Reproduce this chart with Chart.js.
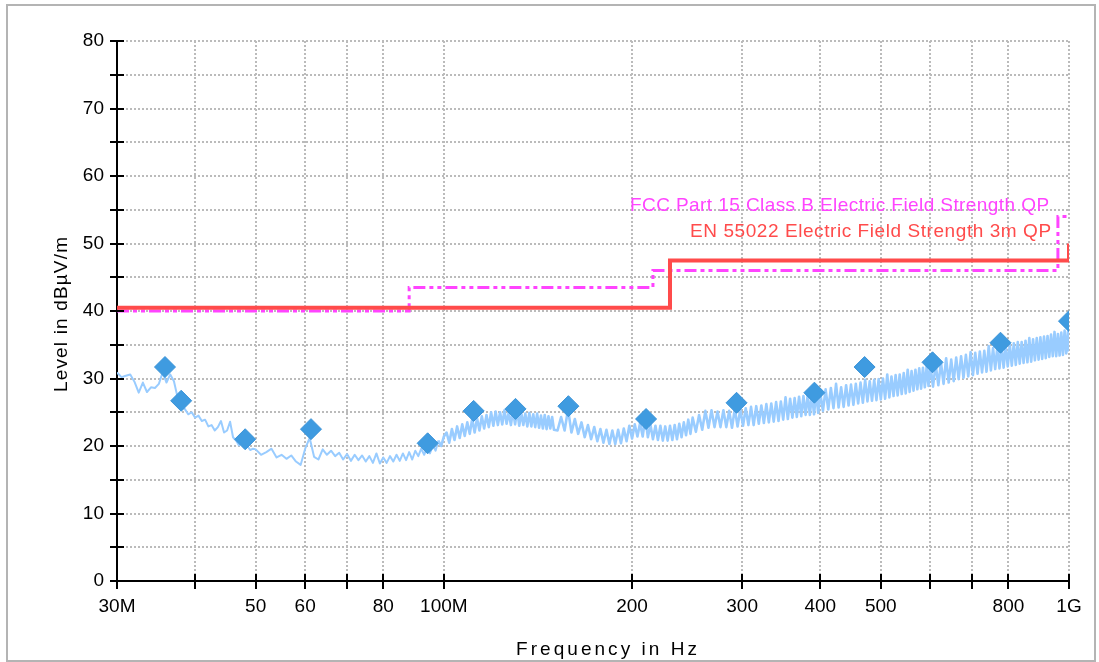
<!DOCTYPE html>
<html>
<head>
<meta charset="utf-8">
<script src="https://cdn.jsdelivr.net/npm/chart.js@4/dist/chart.umd.min.js"></script>
<style>
html,body{margin:0;padding:0;background:#fff;}
#c{display:block;}
</style>
</head>
<body>
<canvas id="c" width="1099" height="662"></canvas>
<script>
// ---------- data (frequency in MHz, level in dBµV/m) ----------
const xTickValues = [30, 40, 50, 60, 70, 80, 100, 200, 300, 400, 500, 600, 700, 800, 1000];
const xTickLabels = ['30M', '', '50', '60', '', '80', '100M', '200', '300', '400', '500', '', '', '800', '1G'];

const fccFreq  = [30, 88, 88, 216, 216, 960, 960, 1000];
const fccLevel = [40, 40, 43.5, 43.5, 46, 46, 54, 54];

const enFreq  = [30, 230, 230, 1000, 1000];
const enLevel = [40.5, 40.5, 47.5, 47.5, 50];

const peakFreq  = [35.8, 38.0, 48.1, 61.3, 94.2, 111.6, 130.2, 158.2, 210.6, 293.9, 391.5, 471, 604.9, 777, 1000];
const peakLevel = [31.7, 26.7, 21.0, 22.5, 20.4, 25.2, 25.5, 25.9, 24.0, 26.4, 27.9, 31.7, 32.4, 35.3, 38.5];

const fccLabel = 'FCC Part 15 Class B Electric Field Strength QP';
const enLabel  = 'EN 55022 Electric Field Strength 3m QP';
const xTitle = 'Frequency in Hz';
const yTitle = 'Level in dBµV/m';

// measured trace [MHz, dBµV/m]
const trace = [
[30,30.9],[30.5,30.2],[31,30.4],[31.5,30.6],[32,29.5],[32.5,27.9],[33,29.4],[33.5,28.0],[34,28.7],[34.5,28.6],
[35,29.2],[35.5,30.9],[36,29.4],[36.5,30.6],[37,29.6],[37.5,27.2],[38,25.8],[38.5,25.5],[39,24.7],[39.5,25.0],
[40,24.2],[40.5,24.5],[41,23.7],[41.5,23.9],[42,22.9],[42.5,23.1],[43,22.3],[43.5,22.8],[44,23.7],[44.5,22.0],
[45,22.3],[45.5,23.6],[46,21.3],[46.5,20.8],[47,20.1],[47.5,20.4],[48,19.8],[48.5,20.0],[49,19.4],[49.5,19.6],
[50,19.5],[51,18.7],[52,19.1],[53,19.6],[54,18.3],[55,18.7],[56,18.1],[57,18.6],[58,17.7],[59,17.2],
[60,19.6],[61,21.2],[62,18.4],[63,18.0],[64,19.5],[65,18.7],[66,19.3],[67,18.5],[68,19.0],[69,18.0],
[70,18.8],[71,17.8],[72,18.7],[73,17.9],[74,18.6],[75,17.7],[76,18.5],[77,17.5],[78,18.9],[79,17.4],
[80,18.3],[81,17.5],[82,18.5],[83,17.7],[84,18.7],[85,17.8],[86,18.9],[87,17.9],[88,19.1],[89,18.0],
[90,19.3],[91,18.5],[92,19.6],[93,18.7],[94,19.8],[95,18.9],[96,20.1],[97,19.3],[98,20.8],[99,20.0],
[100,21.4],[101,22.0],[102,20.5],[103,22.5],[104,20.9],[105,22.9],[106,21.2],[107,23.2],[108,21.5],[109,23.5],
[110,21.8],[111,24.0],[112,22.0],[113,24.1],[114,22.3],[115,24.4],[116,22.6],[117,24.6],[118,22.8],[119,25.0],
[120,23.0],[121,25.1],[122,23.1],[123,25.0],[124,23.2],[125,25.3],[126,23.3],[127,25.0],[128,23.1],[129,25.2],
[130,23.2],[131,25.3],[132,23.0],[133,24.9],[134,23.1],[135,24.8],[136,22.9],[137,24.9],[138,22.9],[139,24.7],
[140,22.8],[141,24.8],[142,22.7],[143,24.5],[144,22.6],[145,24.6],[146,22.5],[147,24.4],[148,22.6],[149,24.3],
[150,22.4],[152,22.3],[154,24.3],[156,22.3],[158,25.4],[160,22.0],[162,24.0],[164,21.8],[166,23.5],[168,21.3],
[170,23.1],[172,21.0],[174,22.8],[176,20.7],[178,22.5],[180,20.5],[182,22.4],[184,20.3],[186,22.3],[188,20.3],
[190,22.4],[192,20.4],[194,22.6],[196,20.7],[198,23.0],[200,21.1],[202,23.2],[204,21.4],[206,23.4],[208,21.4],
[210,24.3],[212,21.3],[214,23.2],[216,21.0],[218,23.0],[220,20.9],[222,23.0],[224,20.8],[226,22.9],[228,20.8],
[230,23.0],[232,20.9],[234,23.1],[236,21.0],[238,23.3],[240,21.3],[242,23.5],[244,21.6],[246,23.9],[248,21.8],
[250,24.2],[253,22.1],[256,24.6],[259,22.4],[262,25.2],[265,22.7],[268,25.3],[271,22.8],[274,25.1],[277,22.8],
[280,25.3],[283,22.8],[286,25.2],[289,22.7],[292,25.5],[295,22.9],[298,25.4],[301,23.0],[304,25.6],[307,23.1],
[310,25.8],[313,23.1],[316,25.9],[319,23.3],[322,26.0],[325,23.4],[328,26.2],[331,23.5],[334,26.3],[337,23.6],
[340,26.5],[343,23.7],[346,26.6],[349,23.9],[352,27.2],[355,24.0],[358,27.0],[361,24.2],[364,27.1],[367,24.3],
[370,27.3],[373,24.4],[376,27.4],[379,24.6],[382,27.6],[385,24.6],[388,27.7],[391,24.7],[394,27.9],[397,24.9],
[400,27.9],[404,25.2],[408,28.4],[412,25.4],[416,28.6],[420,25.6],[424,29.2],[428,25.7],[432,28.7],[436,25.8],
[440,29.0],[444,26.0],[448,29.1],[452,26.1],[456,29.2],[460,26.3],[464,29.4],[468,26.4],[472,29.8],[476,26.6],
[480,29.6],[484,26.7],[488,29.8],[492,26.8],[496,29.9],[500,26.9],[504,30.0],[508,27.0],[512,30.6],[516,27.2],
[520,30.3],[524,27.4],[528,30.5],[532,27.5],[536,30.6],[540,27.7],[544,30.8],[548,27.8],[552,31.3],[556,28.0],
[560,31.1],[564,28.2],[568,31.3],[572,28.4],[576,31.5],[580,28.5],[584,31.6],[588,28.7],[592,31.8],[596,28.9],
[600,32.0],[606,28.8],[612,32.1],[618,29.0],[624,32.4],[630,29.2],[636,33.0],[642,29.4],[648,32.8],[654,29.6],
[660,33.1],[666,29.9],[672,33.3],[678,30.1],[684,33.5],[690,30.3],[696,33.9],[702,30.5],[708,33.8],[714,30.7],
[720,34.0],[726,30.9],[732,34.1],[738,31.0],[744,34.8],[750,31.2],[756,34.5],[762,31.4],[768,34.7],[774,31.5],
[780,34.8],[786,31.6],[792,34.9],[798,31.8],[804,35.0],[810,31.9],[816,35.2],[822,32.0],[828,35.4],[834,32.2],
[840,35.4],[846,32.3],[852,35.6],[858,32.4],[864,36.0],[870,32.5],[876,35.8],[882,32.7],[888,36.0],[894,32.8],
[900,36.1],[906,32.9],[912,36.2],[918,33.0],[924,36.3],[930,33.2],[936,36.5],[942,33.3],[948,36.9],[954,33.3],
[960,36.6],[966,33.4],[972,36.8],[978,33.5],[984,37.1],[990,33.7],[996,36.9],[1000,34.0]
];

// ---------- helpers ----------
const FONT = '"Liberation Sans", Arial, sans-serif';

function drawSpaced(ctx, text, left, baseline, targetW) {
  ctx.textAlign = 'left';
  ctx.textBaseline = 'alphabetic';
  if ('letterSpacing' in ctx) ctx.letterSpacing = '0px';
  const n = [...text].length;
  const w0 = ctx.measureText(text).width;
  if ('letterSpacing' in ctx) {
    const sp = (targetW - w0) / (n - 1);
    ctx.letterSpacing = sp.toFixed(2) + 'px';
    ctx.fillText(text, left, baseline);
    ctx.letterSpacing = '0px';
  } else {
    ctx.save();
    ctx.translate(left, baseline);
    ctx.scale(targetW / w0, 1);
    ctx.fillText(text, 0, 0);
    ctx.restore();
  }
}

const decor = {
  id: 'decor',
  beforeDraw(chart) {
    const ctx = chart.ctx;
    ctx.save();
    ctx.fillStyle = '#ffffff';
    ctx.fillRect(0, 0, chart.width, chart.height);
    ctx.strokeStyle = '#b4b4b4';
    ctx.lineWidth = 2;
    ctx.strokeRect(7, 5, 1088, 656);
    ctx.restore();
  },
  afterDraw(chart) {
    const ctx = chart.ctx, xs = chart.scales.x, ys = chart.scales.y;
    ctx.save();
    ctx.strokeStyle = '#000';
    ctx.lineWidth = 2;
    ys.ticks.forEach(t => {
      const y = Math.round(ys.getPixelForValue(t.value));
      ctx.beginPath(); ctx.moveTo(xs.left - 7, y); ctx.lineTo(xs.left + 7, y); ctx.stroke();
    });
    xs.ticks.forEach(t => {
      const x = Math.round(xs.getPixelForValue(t.value));
      ctx.beginPath(); ctx.moveTo(x, ys.bottom - 7); ctx.lineTo(x, ys.bottom + 8); ctx.stroke();
    });
    ctx.font = '19px ' + FONT;
    ctx.fillStyle = '#ff44ff';
    drawSpaced(ctx, fccLabel, 630, 210.5, 419);
    ctx.fillStyle = '#ff4b4b';
    drawSpaced(ctx, enLabel, 690, 237, 361);
    ctx.fillStyle = '#000';
    drawSpaced(ctx, xTitle, 516, 655, 181);
    ctx.translate(67, 392);
    ctx.rotate(-Math.PI / 2);
    drawSpaced(ctx, yTitle, 0, 0, 155);
    ctx.restore();
  }
};

const toXY = (fs, ls) => fs.map((f, i) => ({x: f, y: ls[i]}));

new Chart(document.getElementById('c'), {
  type: 'line',
  data: {
    datasets: [
      {
        label: 'Peaks',
        data: toXY(peakFreq, peakLevel),
        showLine: false,
        pointStyle: 'rectRot',
        pointRadius: 10.5,
        pointBackgroundColor: '#3f9be0',
        pointBorderColor: '#3a93d8',
        pointBorderWidth: 1,
        order: 0
      },
      {
        label: enLabel,
        data: toXY(enFreq, enLevel),
        borderColor: '#ff4b4b',
        borderWidth: 4,
        borderJoinStyle: 'miter',
        pointRadius: 0,
        order: 1
      },
      {
        label: fccLabel,
        data: toXY(fccFreq, fccLevel),
        borderColor: '#ff44ff',
        borderWidth: 3,
        borderDash: [12, 4, 4, 4, 4, 4],
        pointRadius: 0,
        order: 2
      },
      {
        label: 'Trace',
        data: trace.map(p => ({x: p[0], y: p[1]})),
        borderColor: '#99ccff',
        borderWidth: 2,
        borderJoinStyle: 'round',
        segment: {borderWidth: c => (c.p0.parsed.x < 98 ? 2 : 2.6)},
        pointRadius: 0,
        order: 3
      }
    ]
  },
  options: {
    responsive: false,
    animation: false,
    devicePixelRatio: 1,
    layout: {padding: {top: 41, right: 30, left: 0, bottom: 0}},
    elements: {line: {tension: 0}},
    plugins: {legend: {display: false}, tooltip: {enabled: false}},
    scales: {
      x: {
        type: 'logarithmic',
        min: 30,
        max: 1000,
        afterBuildTicks: s => { s.ticks = xTickValues.map(v => ({value: v})); },
        afterFit: s => { s.height = 81; },
        ticks: {
          autoSkip: false,
          maxRotation: 0,
          padding: 14,
          color: '#000',
          font: {family: FONT, size: 19},
          callback: (v, i) => xTickLabels[i]
        },
        grid: {color: '#bbbbbb', lineWidth: 2, drawTicks: false},
        border: {color: '#000', width: 2, dash: [2, 2]}
      },
      y: {
        type: 'linear',
        min: 0,
        max: 80,
        afterFit: s => { s.width = 117; },
        ticks: {
          stepSize: 5,
          autoSkip: false,
          padding: 13,
          color: '#000',
          font: {family: FONT, size: 19},
          callback: v => (v % 10 === 0 ? String(v) : '')
        },
        grid: {color: '#bbbbbb', lineWidth: 2, drawTicks: false},
        border: {color: '#000', width: 2, dash: [2, 2]}
      }
    }
  },
  plugins: [decor]
});
</script>
</body>
</html>
